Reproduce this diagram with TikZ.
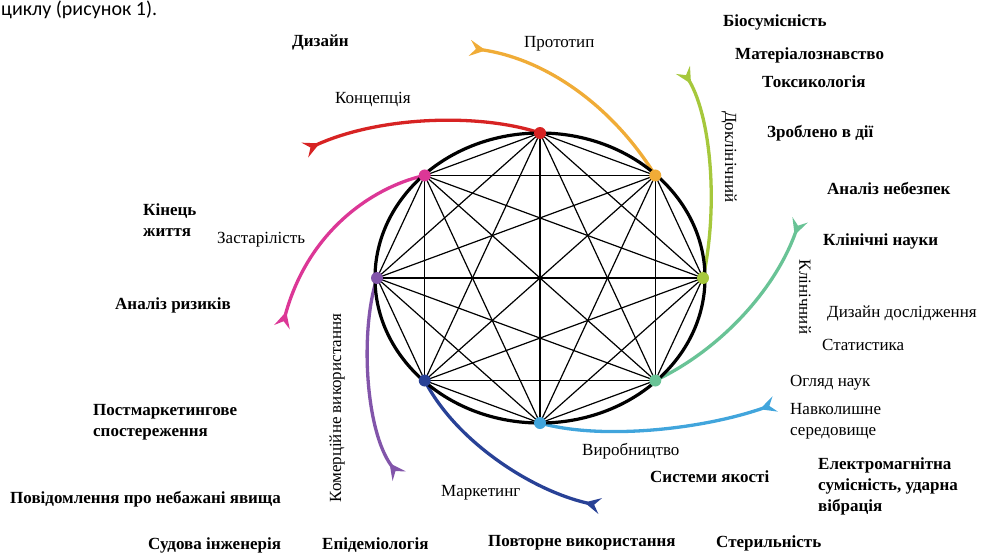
\documentclass[tikz,border=0pt]{standalone}
\usepackage{fontspec}
\setmainfont{Liberation Serif}
\newfontfamily\docfont{Carlito}
\usetikzlibrary{arrows.meta}

\definecolor{cRed}{RGB}{215,35,35}
\definecolor{cOrange}{RGB}{240,172,55}
\definecolor{cLime}{RGB}{166,200,60}
\definecolor{cMint}{RGB}{105,195,150}
\definecolor{cSky}{RGB}{65,165,220}
\definecolor{cNavy}{RGB}{40,65,150}
\definecolor{cViolet}{RGB}{130,85,170}
\definecolor{cPink}{RGB}{220,55,150}

\begin{document}
\begin{tikzpicture}[
    x=1pt, y=-1pt,
    dot/.style={circle, inner sep=0pt, minimum size=12pt},
    edge/.style={line width=1.2pt},
    rim/.style={line width=3.2pt},
    spoke/.style={line width=3.3pt,
        -{Stealth[reversed, length=16pt, width=16pt, inset=6pt]}},
    lbl/.style={font=\fontsize{17}{21}\selectfont, inner sep=0pt,
        anchor=west, align=left},
    blbl/.style={lbl, font=\fontsize{17}{21}\selectfont\bfseries}
]
\useasboundingbox (0,0) rectangle (984,554);

% text of the page above the figure
\node[font=\docfont\fontsize{20}{24}\selectfont, anchor=north west,
    inner sep=0pt] (page) at (1,1) {циклу (рисунок 1).};

% eight stages on the ellipse
\foreach \i/\a in {1/90, 2/45, 3/0, 4/-45, 5/-90, 6/-135, 7/180, 8/135}
    \coordinate (p\i) at ({540+163*cos(\a)}, {278-145*sin(\a)});

% free ends of the spokes
\coordinate (tKonc) at (305,150);
\coordinate (tProt) at (470,48);
\coordinate (tDokl) at (683,70);
\coordinate (tKlin) at (800,220);
\coordinate (tVyrob) at (775,404);
\coordinate (tMark) at (600,506);
\coordinate (tKomer) at (399,476);
\coordinate (tZast) at (282,327);

\draw[spoke, cRed] (p1) .. controls (480,113) and (380,116) .. (tKonc);
\draw[spoke, cOrange] (p2) .. controls (615,110) and (550,60) .. (tProt);
\draw[spoke, cLime] (p3) .. controls (718,210) and (712,120) .. (tDokl);
\draw[spoke, cMint] (p4) .. controls (720,350) and (775,290) .. (tKlin);
\draw[spoke, cSky] (p5) .. controls (600,440) and (700,430) .. (tVyrob);
\draw[spoke, cNavy] (p6) .. controls (455,440) and (530,490) .. (tMark);
\draw[spoke, cViolet] (p7) .. controls (360,330) and (365,430) .. (tKomer);
\draw[spoke, cPink] (p8) .. controls (380,185) and (310,225) .. (tZast);

\draw[rim] (540,278) ellipse [x radius=165pt, y radius=145pt];

% every stage joined to every other
\foreach \i in {1,...,7}{
    \pgfmathtruncatemacro\k{\i+1}
    \foreach \j in {\k,...,8}
        \draw[edge] (p\i) -- (p\j);
}

\foreach \i/\c in {1/cRed, 2/cOrange, 3/cLime, 4/cMint, 5/cSky, 6/cNavy,
    7/cViolet, 8/cPink}
    \node[dot, fill=\c] (d\i) at (p\i) {};

% labels
\node[blbl] (dyzain) at (292,42) {Дизайн};
\node[lbl] (prot) at (524,44) {Прототип};
\node[lbl] (konc) at (335,100) {Концепція};
\node[blbl] (bio) at (723,22) {Біосумісність};
\node[blbl] (mater) at (735,55) {Матеріалознавство};
\node[blbl] (toks) at (762,82) {Токсикологія};
\node[lbl, rotate=-90, anchor=center] (dokl) at (729,157) {Доклінічний};
\node[blbl] (zrobl) at (767,133) {Зроблено в дії};
\node[blbl] (nebez) at (827,188) {Аналіз небезпек};
\node[blbl] (klnauk) at (823,241) {Клінічні науки};
\node[lbl, rotate=-90, anchor=center] (klin) at (805,297) {Клінічний};
\node[lbl] (dosl) at (827,313) {Дизайн дослідження};
\node[lbl] (stat) at (822,345) {Статистика};
\node[lbl] (ohliad) at (790,383) {Огляд наук};
\node[lbl] (seredov) at (790,421) {Навколишне\\середовище};
\node[blbl] (elmag) at (818,486) {Електромагнітна\\сумісність, ударна\\вібрація};
\node[lbl] (vyrob) at (582,451) {Виробництво};
\node[blbl] (yakist) at (650,477) {Системи якості};
\node[blbl] (steril) at (716,543) {Стерильність};
\node[blbl] (povtor) at (488,543) {Повторне використання};
\node[lbl] (mark) at (441,493) {Маркетинг};
\node[blbl] (epid) at (322,545) {Епідеміологія};
\node[blbl] (sudova) at (148,545) {Судова інженерія};
\node[blbl] (povid) at (10,499) {Повідомлення про небажані явища};
\node[blbl] (postm) at (93,422) {Постмаркетингове\\спостереження};
\node[lbl, rotate=90, anchor=center] (komer) at (337,408) {Комерційне використання};
\node[blbl] (kinec) at (143,220) {Кінець\\життя};
\node[lbl] (zast) at (217,240) {Застарілість};
\node[blbl] (ryzyk) at (115,305) {Аналіз ризиків};
\end{tikzpicture}
\end{document}
